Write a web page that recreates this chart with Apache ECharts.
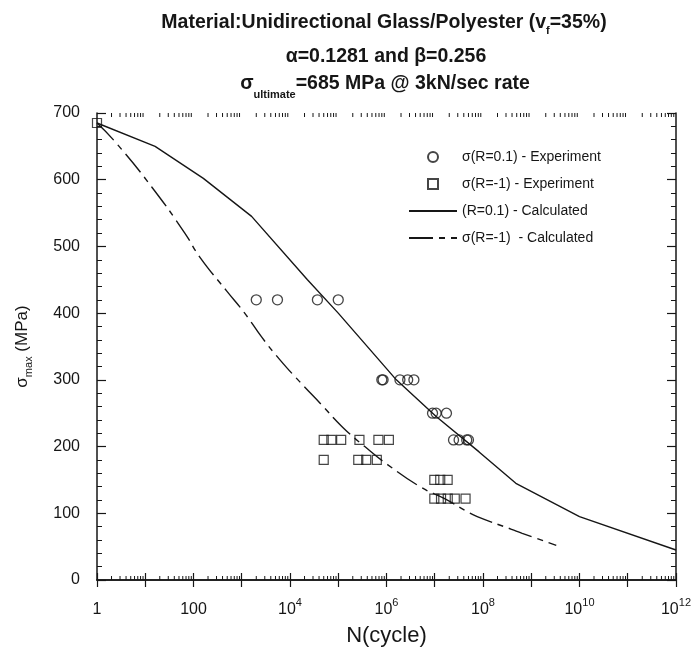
<!DOCTYPE html>
<html>
<head>
<meta charset="utf-8">
<title>S-N curve - Glass/Polyester</title>
<script src="https://cdn.jsdelivr.net/npm/echarts@6/dist/echarts.min.js"></script>
<style>
    html, body { margin: 0; padding: 0; background: #fff; }
    #chart { width: 694px; height: 653px; }
</style>
</head>
<body>
<div id="chart"></div>
<script>
// 试验点 R=0.1 (N 循环次数, 应力 MPa)
const expR01N = [2000, 5500, 37000, 100000,
    800000, 850000, 1900000, 2750000, 3700000,
    9000000, 10700000, 17500000,
    24500000, 32000000, 46000000, 50000000];
const expR01S = [420, 420, 420, 420,
    300, 300, 300, 300, 300,
    250, 250, 250,
    210, 210, 210, 210];

// 试验点 R=-1
const expRm1N = [1,
    50000, 72000, 115000, 275000, 680000, 1120000,
    50000, 260000, 380000, 630000,
    9800000, 13000000, 18500000,
    9800000, 13500000, 18600000, 26000000, 43500000];
const expRm1S = [685,
    210, 210, 210, 210, 210, 210,
    180, 180, 180, 180,
    150, 150, 150,
    122, 122, 122, 122, 122];

// 计算曲线 R=0.1
const calcR01N = [1, 16, 160, 1600, 23000, 100000, 1600000, 10700000, 83000000, 480000000, 1e10, 1e12];
const calcR01S = [685, 650, 602, 545, 450, 400, 300, 245, 192, 145, 95, 45];

// 计算曲线 R=-1
const calcRm1N = [1, 2.5, 14, 66, 135, 490, 1150, 2600, 6200, 16000, 46000, 123000,
    355000, 1050000, 5200000, 16000000, 46000000, 76000000, 390000000, 650000000, 3300000000];
const calcRm1S = [685, 655, 588, 520, 484, 433, 400, 364, 330, 297, 262, 229,
    200, 173, 139, 122, 103, 95, 76, 70, 52];

// 坐标轴范围
const xMin = 1;
const xMax = 1e12;
const yTicks = [0, 100, 200, 300, 400, 500, 600, 700];

const FONT = '"Liberation Sans", Arial, Helvetica, sans-serif';
const INK = '#161616';

const zip = (xs, ys) => xs.map((x, i) => [x, ys[i]]);

// 对数轴的次刻度 (2..9 × 10^k)
const minorTicks = [];
for (let e = 0; e < 12; e++) {
    for (let k = 2; k <= 9; k++) minorTicks.push([k * Math.pow(10, e), 0]);
}

const chart = echarts.init(document.getElementById('chart'));

const xLabelFmt = function (value) {
    const p = Math.round(Math.log10(value));
    if (p % 2 !== 0) return '';
    if (p === 0) return '{b|1}';
    if (p === 2) return '{b|100}';
    return '{b|10}{sup|' + p + '}';
};

// 标题用的富文本样式
const titleRich = function (mainLH, subLH, subSize) {
    return {
        m: { fontSize: 19.5, fontWeight: 'bold', fontFamily: FONT, fill: INK, lineHeight: mainLH },
        s: { fontSize: subSize, fontWeight: 'bold', fontFamily: FONT, fill: INK, lineHeight: subLH, verticalAlign: 'bottom' }
    };
};

const option = {
    animation: false,
    backgroundColor: '#fff',
    textStyle: { fontFamily: FONT, color: INK },
    grid: { left: 97, right: 17, top: 113, bottom: 73 },
    graphic: [
        {
            type: 'text', x: 384, y: 23,
            style: {
                text: '{m|Material:Unidirectional Glass/Polyester (v}{s|f}{m|=35%)}',
                align: 'center', verticalAlign: 'middle',
                rich: titleRich(27, 14, 11)
            }
        },
        {
            type: 'text', x: 386, y: 57,
            style: {
                text: 'α=0.1281 and β=0.256',
                font: 'bold 19.5px ' + FONT, fill: INK,
                align: 'center', verticalAlign: 'middle'
            }
        },
        {
            type: 'text', x: 385, y: 84,
            style: {
                text: '{m|σ}{s|ultimate}{m|=685 MPa @ 3kN/sec rate}',
                align: 'center', verticalAlign: 'middle',
                rich: titleRich(32, 12, 11)
            }
        }
    ],
    legend: {
        orient: 'vertical',
        left: 403,
        top: 145,
        itemWidth: 48,
        itemHeight: 10,
        itemGap: 13,
        textStyle: { fontSize: 14, color: INK, fontFamily: FONT },
        data: [
            { name: 'σ(R=0.1) - Experiment' },
            { name: 'σ(R=-1) - Experiment' },
            { name: '(R=0.1) - Calculated', itemStyle: { opacity: 0 } },
            { name: 'σ(R=-1)  - Calculated', itemStyle: { opacity: 0 } }
        ]
    },
    xAxis: [
        {
            type: 'log', logBase: 10, min: xMin, max: xMax, interval: 1,
            name: 'N(cycle)', nameLocation: 'middle', nameGap: 45,
            nameTextStyle: { fontSize: 22, color: INK, fontFamily: FONT },
            axisLine: { lineStyle: { color: INK, width: 1.5 } },
            axisTick: { inside: true, length: 7, lineStyle: { color: INK, width: 1.2 } },
            axisLabel: {
                margin: 17, color: INK, formatter: xLabelFmt,
                rich: {
                    b: { fontSize: 16, lineHeight: 26, fontFamily: FONT, color: INK },
                    sup: { fontSize: 11, lineHeight: 12, verticalAlign: 'top', fontFamily: FONT, color: INK }
                }
            },
            splitLine: { show: false }
        },
        {
            type: 'log', logBase: 10, min: xMin, max: xMax, interval: 1, position: 'top',
            axisLine: { lineStyle: { color: INK, width: 1.5 } },
            axisTick: { inside: true, length: 7, lineStyle: { color: INK, width: 1.2 } },
            axisLabel: { show: false },
            splitLine: { show: false }
        }
    ],
    yAxis: [
        {
            type: 'value', min: yTicks[0], max: yTicks[yTicks.length - 1], interval: 100,
            name: '{b|σ}{sub|max}{b| (MPa)}', nameLocation: 'middle', nameGap: 63,
            nameTextStyle: {
                fontSize: 17, lineHeight: 24, color: INK, fontFamily: FONT,
                rich: {
                    b: { fontSize: 17, lineHeight: 24, fontFamily: FONT, color: INK },
                    sub: { fontSize: 11, lineHeight: 12, verticalAlign: 'bottom', fontFamily: FONT, color: INK }
                }
            },
            axisLine: { show: true, lineStyle: { color: INK, width: 1.5 } },
            axisTick: { show: true, inside: true, length: 9, lineStyle: { color: INK, width: 1.2 } },
            minorTick: { show: true, splitNumber: 5, length: 5, lineStyle: { color: INK, width: 1 } },
            axisLabel: { fontSize: 16, margin: 17, color: INK, fontFamily: FONT },
            splitLine: { show: false }
        },
        {
            type: 'value', min: yTicks[0], max: yTicks[yTicks.length - 1], interval: 100, position: 'right',
            axisLine: { show: true, lineStyle: { color: INK, width: 1.5 } },
            axisTick: { show: true, inside: true, length: 9, lineStyle: { color: INK, width: 1.2 } },
            minorTick: { show: true, splitNumber: 5, length: 5, lineStyle: { color: INK, width: 1 } },
            axisLabel: { show: false },
            splitLine: { show: false }
        }
    ],
    series: [
        {
            name: '(R=0.1) - Calculated',
            type: 'line',
            data: zip(calcR01N, calcR01S),
            symbol: 'none',
            lineStyle: { color: INK, width: 1.4 },
            itemStyle: { color: INK },
            z: 2
        },
        {
            name: 'σ(R=-1)  - Calculated',
            type: 'line',
            data: zip(calcRm1N, calcRm1S),
            symbol: 'none',
            smooth: true,
            lineStyle: { color: INK, width: 1.4, type: [24, 6, 6, 6] },
            itemStyle: { color: INK },
            z: 2
        },
        {
            name: 'σ(R=0.1) - Experiment',
            type: 'scatter',
            data: zip(expR01N, expR01S),
            symbol: 'circle',
            symbolSize: 10,
            itemStyle: { color: 'rgba(0,0,0,0)', borderColor: INK, borderWidth: 1.3 },
            z: 3
        },
        {
            name: 'σ(R=-1) - Experiment',
            type: 'scatter',
            data: zip(expRm1N, expRm1S),
            symbol: 'path://M0,0H10V10H0Z',
            symbolKeepAspect: true,
            symbolSize: 9,
            itemStyle: { color: 'rgba(0,0,0,0)', borderColor: INK, borderWidth: 1.2 },
            z: 3
        },
        {
            // 对数次刻度（上下边框）
            type: 'custom',
            silent: true,
            clip: false,
            data: minorTicks,
            encode: { x: 0, y: 1 },
            renderItem: function (params, api) {
                const n = api.value(0);
                const b = api.coord([n, yTicks[0]]);
                const t = api.coord([n, yTicks[yTicks.length - 1]]);
                const st = { stroke: INK, lineWidth: 1 };
                return {
                    type: 'group',
                    children: [
                        { type: 'line', shape: { x1: b[0], y1: b[1], x2: b[0], y2: b[1] - 4 }, style: st },
                        { type: 'line', shape: { x1: t[0], y1: t[1], x2: t[0], y2: t[1] + 4 }, style: st }
                    ]
                };
            },
            z: 4
        }
    ]
};

chart.setOption(option);
</script>
</body>
</html>
